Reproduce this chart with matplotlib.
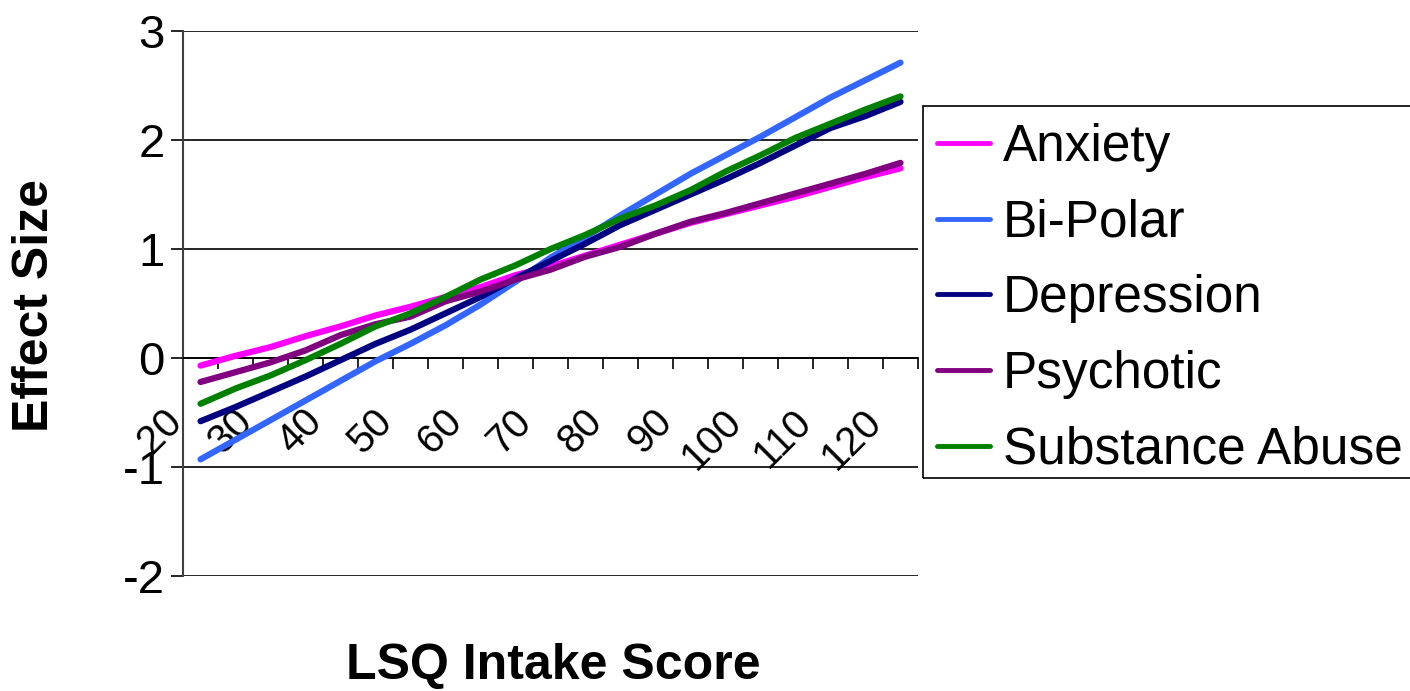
import numpy as np
import matplotlib
matplotlib.use('Agg')
import matplotlib.pyplot as plt
import matplotlib.transforms as mtransforms
from matplotlib.patches import Rectangle

plt.rcParams['font.family'] = ['Liberation Sans', 'DejaVu Sans']
plt.rcParams['axes.unicode_minus'] = False

# LSQ intake score categories (every other one labelled on the axis)
scores = [20, 25, 30, 35, 40, 45, 50, 55, 60, 65, 70,
          75, 80, 85, 90, 95, 100, 105, 110, 115, 120]

anxiety = [-0.07, 0.02, 0.10, 0.20, 0.29, 0.39, 0.47, 0.56, 0.65, 0.76, 0.84,
           0.94, 1.04, 1.14, 1.24, 1.32, 1.40, 1.48, 1.57, 1.66, 1.74]
bipolar = [-0.93, -0.75, -0.57, -0.39, -0.21, -0.03, 0.13, 0.30, 0.49, 0.70, 0.92,
           1.11, 1.31, 1.50, 1.69, 1.86, 2.03, 2.21, 2.39, 2.55, 2.71]
depression = [-0.58, -0.45, -0.31, -0.17, -0.02, 0.13, 0.26, 0.41, 0.56, 0.73, 0.89,
              1.05, 1.22, 1.36, 1.50, 1.64, 1.79, 1.95, 2.11, 2.22, 2.35]
psychotic = [-0.22, -0.13, -0.04, 0.07, 0.21, 0.31, 0.38, 0.52, 0.61, 0.72, 0.81,
             0.93, 1.02, 1.14, 1.25, 1.33, 1.42, 1.51, 1.60, 1.69, 1.79]
substance = [-0.42, -0.28, -0.16, -0.02, 0.13, 0.29, 0.41, 0.56, 0.72, 0.85, 1.00,
             1.13, 1.28, 1.40, 1.54, 1.71, 1.86, 2.02, 2.15, 2.28, 2.40]

names = ['Anxiety', 'Bi-Polar', 'Depression', 'Psychotic', 'Substance Abuse']
series = [anxiety, bipolar, depression, psychotic, substance]
colors = ['#FF00FF', '#3366FF', '#000080', '#800080', '#008000']

W, H = 1410, 691
fig = plt.figure(figsize=(W / 100, H / 100), dpi=100)
ax = fig.add_axes([183 / W, 1 - 576 / H, 735 / W, 545 / H])

x = np.arange(len(scores))
for name, vals, col in zip(names, series, colors):
    ax.plot(x, vals, color=col, lw=4.5, solid_capstyle='round', label=name, zorder=3)

ax.set_xlim(-0.5, len(scores) - 0.5)
ax.set_ylim(-2, 3)
ax.set_yticks(range(-2, 4))
ax.yaxis.grid(True, color='black', lw=1.2)
ax.set_axisbelow(True)

for s in ['top', 'right']:
    ax.spines[s].set_visible(False)
ax.spines['bottom'].set_position(('data', 0))
ax.spines['bottom'].set_linewidth(1.2)
ax.spines['left'].set_color('#404040')
ax.spines['left'].set_linewidth(1.5)

# category labels, rotated like the spreadsheet
ax.set_xticks(x[::2], [str(s) for s in scores[::2]], rotation=45, ha='right', va='top', fontsize=29)
ax.set_xticks(np.arange(0.5, len(scores)), minor=True)
ax.tick_params(axis='x', which='major', length=0, pad=32)
ax.tick_params(axis='x', which='minor', length=8, width=1.2, direction='out')
offset = mtransforms.ScaledTranslation(-11 / 100, 0, fig.dpi_scale_trans)
for lab in ax.get_xticklabels():
    lab.set_transform(lab.get_transform() + offset)
ax.tick_params(axis='y', length=9, width=1.2, pad=4, labelsize=34)

# legend box drawn separately so it can run off the right edge like the original
fig.add_artist(Rectangle((923 / W, 1 - 478 / H), (1430 - 923) / W, (478 - 106) / H,
                         transform=fig.transFigure, fill=False, ec='black', lw=1.2))
leg = fig.legend(loc='upper left', bbox_to_anchor=(937 / W, 1 - 123 / H),
                 fontsize=37, frameon=False, handlelength=1.03, handletextpad=0.25,
                 labelspacing=0.52, borderpad=0, borderaxespad=0)
for h in leg.get_lines():
    h.set_linewidth(3.5)

fig.text(35 / W, 1 - 305 / H, 'Effect Size', rotation=90, ha='center', va='center',
         fontsize=36, fontweight='bold')
fig.text(553 / W, 1 - 666 / H, 'LSQ Intake Score', ha='center', va='center',
         fontsize=36, fontweight='bold')

fig.savefig('out.png', dpi=100)
